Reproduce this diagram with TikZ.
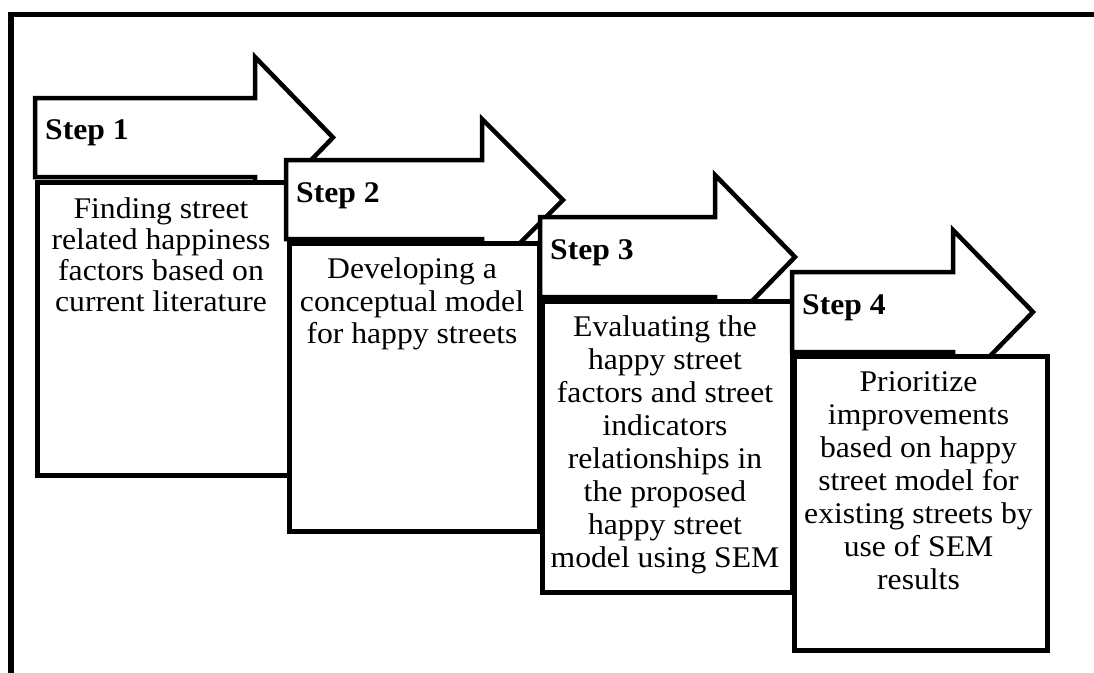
\documentclass[tikz,border=0pt]{standalone}
\usepackage{fontspec}
\setmainfont[FakeStretch=1.055]{Liberation Serif}
\tikzset{
  outline/.style={draw=black, line width=4.5pt, fill=white, line join=miter},
  stepbox/.style={outline, rectangle, inner sep=0pt, anchor=north west},
  steplabel/.style={anchor=base west, inner sep=0pt, font=\fontsize{30}{33}\selectfont\bfseries},
  boxtext/.style={anchor=north, inner sep=0pt, align=center},
}
\begin{document}
\begin{tikzpicture}[x=1pt,y=-1pt]
\useasboundingbox (0,0) rectangle (1094,672);
% outer frame (right and bottom lie outside the picture)
\draw[line width=5.5pt] (11,700) -- (11,14.5) -- (1120,14.5);

% Step 1
\draw[outline] (35,177) -- (35,98) -- (255,98) -- (255,57) -- (333,137.5) -- (255,218) -- (255,177) -- cycle;
\node[steplabel] (s1) at (45,139.5) {Step 1};
\node[stepbox, minimum width=252pt, minimum height=293pt] (b1) at (35,180) {};
\node[boxtext, font=\fontsize{30}{31}\selectfont] (t1) at (161,197.5) {Finding street\\related happiness\\factors based on\\current literature};

% Step 2
\draw[outline] (286,239) -- (286,160) -- (482,160) -- (482,119) -- (563,200) -- (482,281) -- (482,239) -- cycle;
\node[steplabel] (s2) at (296,202) {Step 2};
\node[stepbox, minimum width=250pt, minimum height=288pt] (b2) at (287,241) {};
\node[boxtext, font=\fontsize{30}{32.5}\selectfont] (t2) at (412,257.5) {Developing a\\conceptual model\\for happy streets};

% Step 3
\draw[outline] (540,297) -- (540,217) -- (715,217) -- (715,175) -- (795,257) -- (715,339) -- (715,297) -- cycle;
\node[steplabel] (s3) at (550,259) {Step 3};
\node[stepbox, minimum width=250pt, minimum height=291pt] (b3) at (540,299) {};
\node[boxtext, font=\fontsize{30}{33}\selectfont] (t3) at (665,315.5) {Evaluating the\\happy street\\factors and street\\indicators\\relationships in\\the proposed\\happy street\\model using SEM};

% Step 4
\draw[outline] (792,352) -- (792,272) -- (953,272) -- (953,230) -- (1033,312) -- (953,394) -- (953,352) -- cycle;
\node[steplabel] (s4) at (802,314) {Step 4};
\node[stepbox, minimum width=253pt, minimum height=294pt] (b4) at (792,354) {};
\node[boxtext, font=\fontsize{30}{33}\selectfont] (t4) at (918.5,371.5) {Prioritize\\improvements\\based on happy\\street model for\\existing streets by\\use of SEM\\results};
\end{tikzpicture}
\end{document}
